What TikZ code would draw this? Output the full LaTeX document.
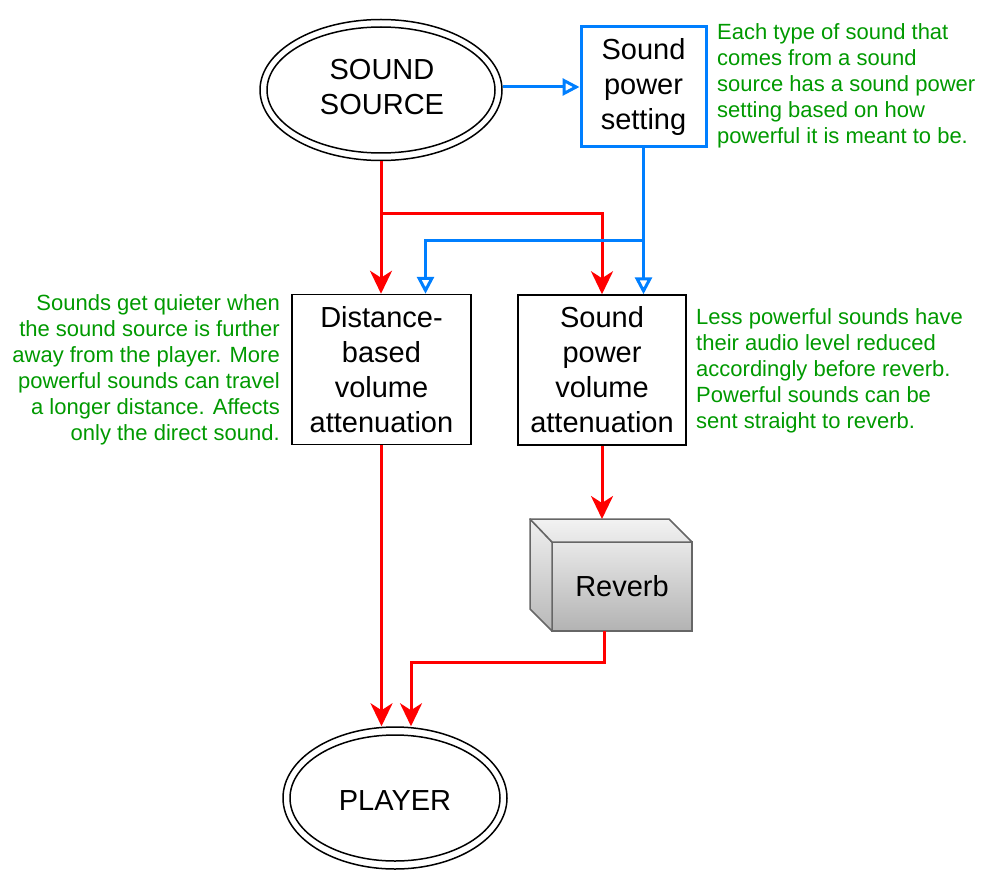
\documentclass[tikz,border=0pt]{standalone}
\usepackage{fontspec}
\setmainfont{Liberation Sans}
\usetikzlibrary{arrows.meta,shapes.geometric,calc}
\definecolor{redc}{HTML}{FF0000}
\definecolor{bluec}{HTML}{007FFF}
\definecolor{greenc}{HTML}{009900}
\definecolor{edgec}{HTML}{666666}
\begin{document}
\begin{tikzpicture}[x=1pt,y=-1pt,
 mainfont/.style={font=\fontsize{29}{35}\selectfont},
 note/.style={text=greenc,font=\fontsize{22}{26}\selectfont,inner sep=0pt},
 ellnode/.style={ellipse,draw,line width=1.5pt,inner sep=0pt,mainfont,align=center},
 boxnode/.style={rectangle,draw,line width=1.5pt,inner sep=0pt,mainfont,align=center},
 redarrow/.style={draw=redc,line width=3pt,-{Stealth[length=23pt,width=22pt,inset=7pt]}},
 bluearrow/.style={draw=bluec,line width=3pt,-{Triangle[open,fill=white,length=17pt,width=17pt]}},
 panel/.style={draw=edgec,line width=1.5pt,line join=round,top color=black!6,bottom color=black!28},
]
\useasboundingbox (0,0) rectangle (981,869);

% nodes
\node[ellnode, minimum width=242pt, minimum height=141pt] (src) at (381,90) {};
\node[mainfont, align=center, inner sep=0pt] (srctext) at (382,87) {SOUND\\SOURCE};
\draw[line width=1.5pt] (src.center) ellipse [x radius=114pt, y radius=63pt];

\node[boxnode, draw=bluec, line width=3pt, minimum width=125pt, minimum height=120pt] (sps) at (643.5,87) {Sound\\power\\setting};

\node[boxnode, minimum width=179pt, minimum height=150pt] (dist) at (381.5,369.5) {Distance-\\based\\volume\\attenuation};
\node[boxnode, minimum width=168pt, minimum height=150pt] (spva) at (602,370) {Sound\\power\\volume\\attenuation};

\node[ellnode, minimum width=224pt, minimum height=142pt] (player) at (395,798) {};
\node[mainfont, inner sep=0pt] (playertext) at (395,801) {PLAYER};
\draw[line width=1.5pt] (player.center) ellipse [x radius=105pt, y radius=63pt];

% reverb cube
\coordinate (cubeback) at (530,519);
\node[rectangle, draw=edgec, line width=1.5pt, outer sep=0pt, inner sep=0pt, top color=black!9, bottom color=black!30, minimum width=140pt, minimum height=89pt, mainfont] (rev) at (622,586.5) {Reverb};
\draw[panel] (cubeback) -- (rev.north west) -- (rev.south west) -- (530,609) -- cycle;
\draw[panel, top color=black!5, bottom color=black!10] (cubeback) -- (669,519) -- (rev.north east) -- (rev.north west) -- cycle;

% notes
\node[note, anchor=west, align=left] (n1) at (717,86) {Each type of sound that\\comes from a sound\\source has a sound power\\setting based on how\\powerful it is meant to be.};
\node[note, anchor=east, align=right] (n2) at (280,370) {Sounds get quieter when\\the sound source is further\\away from the player. More\\powerful sounds can travel\\a longer distance. Affects\\only the direct sound.};
\node[note, anchor=west, align=left] (n3) at (696,371) {Less powerful sounds have\\their audio level reduced\\accordingly before reverb.\\Powerful sounds can be\\sent straight to reverb.};

% red connectors
\coordinate (rsplit) at (src.south |- 0,213);
\draw[redarrow] (src.south) -- (src.south |- dist.north);
\draw[redarrow] (rsplit) -| (spva.north);
\draw[redarrow] (dist.south) -- (dist.south |- player.north);
\draw[redarrow] (spva.south) -- (spva.south |- cubeback);
\coordinate (pin2) at ([xshift=16pt]player.north);
\draw[redarrow] ([xshift=-18pt]rev.south) -- ++(0,31) -| (pin2);

% blue connectors
\draw[bluearrow] (sps.west -| src.east) -- (sps.west);
\coordinate (bsplit) at (sps.south |- 0,240);
\coordinate (din) at ([xshift=44pt]dist.north);
\draw[bluearrow] (sps.south) -- (sps.south |- spva.north);
\draw[bluearrow] (bsplit) -| (din);
\end{tikzpicture}
\end{document}
